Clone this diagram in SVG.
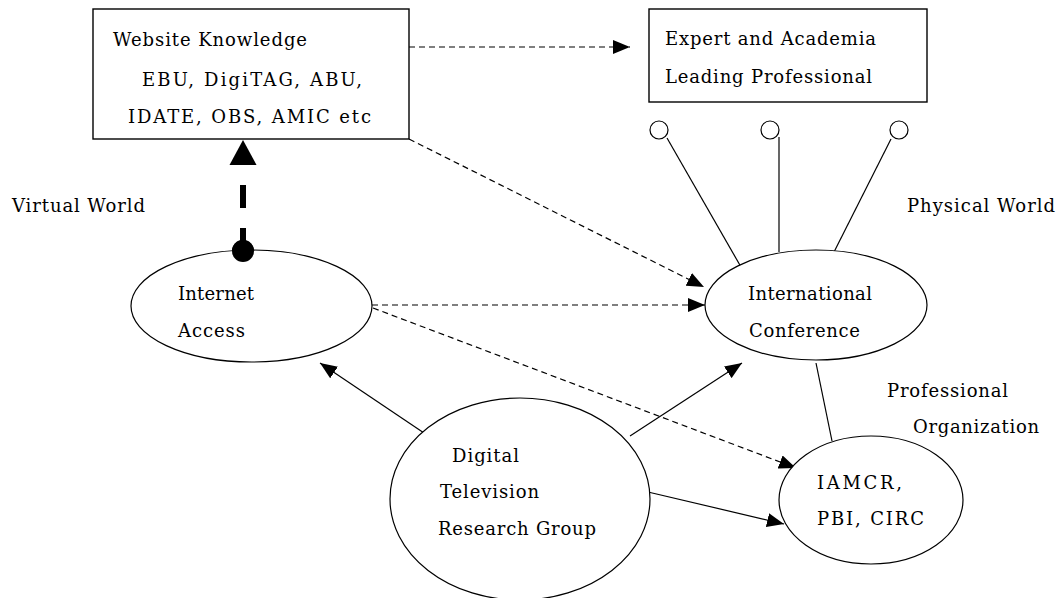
<svg xmlns="http://www.w3.org/2000/svg" width="1061" height="598" viewBox="0 0 1061 598">
<style>
  .box { fill: #fff; stroke: #000; stroke-width: 1.4; }
  .ell { fill: #fff; stroke: #000; stroke-width: 1.2; }
  .t { font-family: "DejaVu Serif", "Liberation Serif", serif; font-size: 18px; fill: #000; }
  .ln { fill: none; stroke: #000; stroke-width: 1.2; }
  .dash { fill: none; stroke: #000; stroke-width: 1.2; stroke-dasharray: 6 4; }
  .thick { fill: none; stroke: #000; stroke-width: 6; stroke-dasharray: 23 20; }
  .knob { fill: #fff; stroke: #000; stroke-width: 1.2; }
</style>
<defs>
  <marker id="arr" markerUnits="userSpaceOnUse" markerWidth="17" markerHeight="14" refX="17" refY="7" orient="auto">
    <path d="M0,0 L17,7 L0,14 z" fill="#000"/>
  </marker>
</defs>
<rect width="1061" height="598" fill="#fff"/>

<g id="connectors">
  <line class="dash" x1="409" y1="47" x2="630" y2="47" marker-end="url(#arr)"/>
  <line class="dash" x1="409" y1="139" x2="704" y2="287" marker-end="url(#arr)"/>
  <line class="dash" x1="372" y1="305" x2="705" y2="305" marker-end="url(#arr)"/>
  <line class="dash" x1="373" y1="308" x2="796" y2="468" marker-end="url(#arr)"/>
  <line class="ln" x1="427" y1="435" x2="320" y2="363" marker-end="url(#arr)"/>
  <line class="ln" x1="630" y1="436" x2="742" y2="363" marker-end="url(#arr)"/>
  <line class="ln" x1="648" y1="492" x2="784" y2="524" marker-end="url(#arr)"/>
  <line class="ln" x1="816" y1="363" x2="832" y2="441"/>
  <path class="thick" d="M243,251 L243,164"/>
  <polygon points="243,140 256.5,165 229.5,165" fill="#000"/>
  <circle cx="243" cy="251" r="11" fill="#000"/>
  <line class="ln" x1="667" y1="138" x2="741" y2="267"/>
  <line class="ln" x1="779" y1="137" x2="779" y2="252"/>
  <line class="ln" x1="891" y1="139" x2="834" y2="252"/>
  <circle class="knob" cx="659" cy="130" r="9"/>
  <circle class="knob" cx="770" cy="130" r="9"/>
  <circle class="knob" cx="899" cy="130" r="9"/>
</g>

<g id="website">
  <rect class="box" x="93" y="9" width="316" height="130"/>
  <text class="t" x="113" y="46" textLength="194" lengthAdjust="spacing">Website Knowledge</text>
  <text class="t" x="142" y="86" textLength="220" lengthAdjust="spacing">EBU, DigiTAG, ABU,</text>
  <text class="t" x="128" y="123" textLength="243" lengthAdjust="spacing">IDATE, OBS, AMIC etc</text>
</g>

<g id="expert">
  <rect class="box" x="649" y="9" width="278" height="93"/>
  <text class="t" x="665" y="45" textLength="211" lengthAdjust="spacing">Expert and Academia</text>
  <text class="t" x="665" y="83" textLength="207" lengthAdjust="spacing">Leading Professional</text>
</g>

<g id="internet">
  <ellipse class="ell" cx="251.5" cy="306" rx="120.5" ry="56"/>
  <circle cx="243" cy="251" r="11" fill="#000"/>
  <text class="t" x="178" y="300" textLength="76" lengthAdjust="spacing">Internet</text>
  <text class="t" x="178" y="337" textLength="67" lengthAdjust="spacing">Access</text>
</g>

<g id="conference">
  <ellipse class="ell" cx="816" cy="305" rx="111" ry="55"/>
  <text class="t" x="748" y="300" textLength="124" lengthAdjust="spacing">International</text>
  <text class="t" x="749" y="337" textLength="111" lengthAdjust="spacing">Conference</text>
</g>

<g id="dtrg">
  <ellipse class="ell" cx="520" cy="499" rx="130" ry="101"/>
  <text class="t" x="452" y="462" textLength="67" lengthAdjust="spacing">Digital</text>
  <text class="t" x="440" y="498" textLength="99" lengthAdjust="spacing">Television</text>
  <text class="t" x="438" y="535" textLength="158" lengthAdjust="spacing">Research Group</text>
</g>

<g id="iamcr">
  <ellipse class="ell" cx="871" cy="500" rx="92" ry="64"/>
  <text class="t" x="817" y="489" textLength="85" lengthAdjust="spacing">IAMCR,</text>
  <text class="t" x="817" y="525" textLength="107" lengthAdjust="spacing">PBI, CIRC</text>
</g>

<g id="labels">
  <text class="t" x="12" y="212" textLength="133" lengthAdjust="spacing">Virtual World</text>
  <text class="t" x="907" y="212" textLength="148" lengthAdjust="spacing">Physical World</text>
  <text class="t" x="887" y="397" textLength="121" lengthAdjust="spacing">Professional</text>
  <text class="t" x="913" y="433" textLength="126" lengthAdjust="spacing">Organization</text>
</g>
</svg>
